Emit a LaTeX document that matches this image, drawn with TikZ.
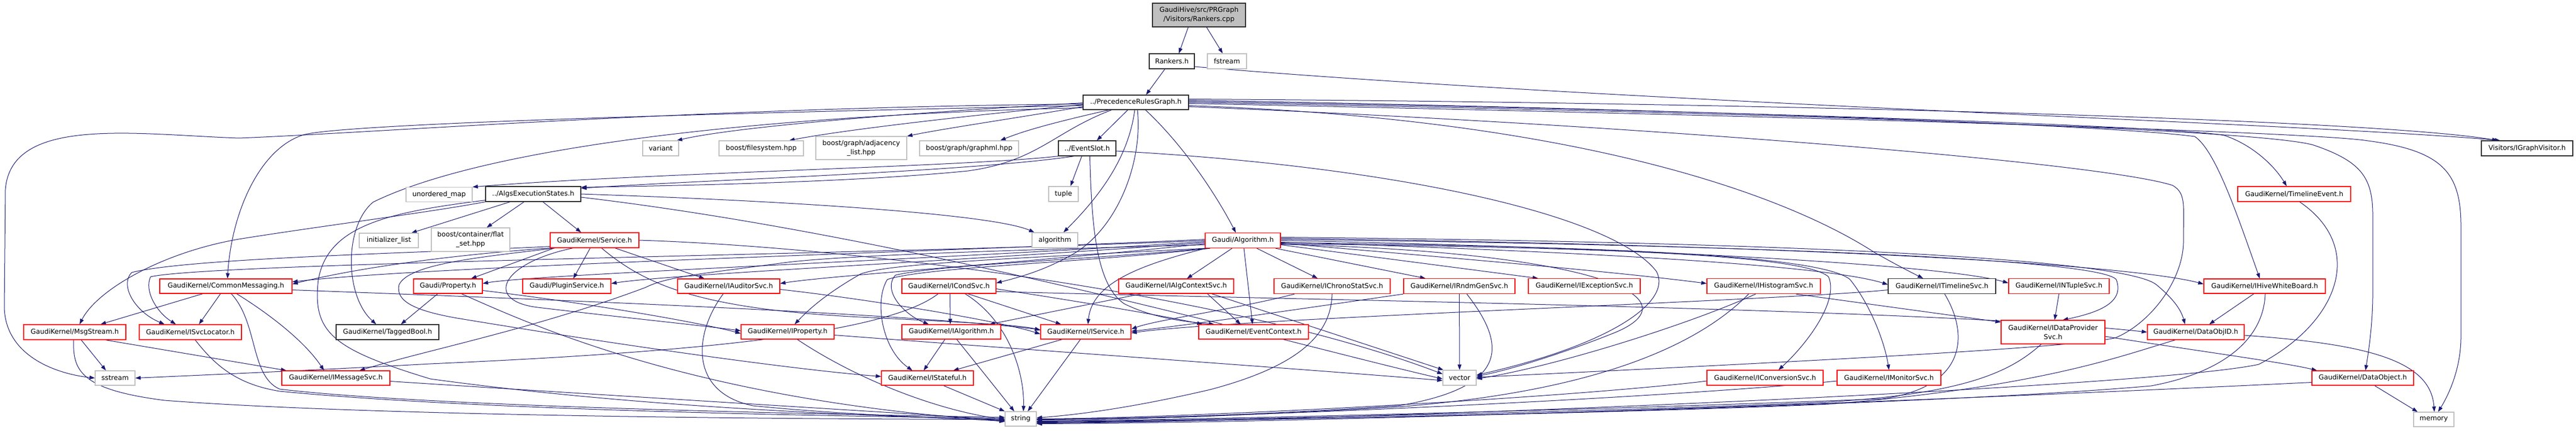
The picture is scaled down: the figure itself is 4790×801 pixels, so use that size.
\documentclass[tikz,border=0pt]{standalone}
\usepackage{fontspec}
\setmainfont{DejaVu Sans}
\usetikzlibrary{arrows.meta,backgrounds}
\definecolor{edgec}{RGB}{25,25,112}
\definecolor{nodered}{RGB}{255,0,0}
\definecolor{nodegray}{RGB}{191,191,191}
\definecolor{nodeblack}{RGB}{40,40,40}
\definecolor{rootgray}{RGB}{191,191,191}
\newcommand\nfont{\fontsize{12.6}{17}\selectfont}
\tikzset{
  nb/.style={draw=#1, line width=1.2pt, fill=white, inner sep=0pt, align=center, font=\nfont},
  rb/.style={nb=nodered}, gb/.style={nb=nodegray}, bb/.style={nb=nodeblack},
  sz/.style 2 args={minimum width=#1pt, minimum height=#2pt},
  edg/.style={draw=edgec, line width=1pt, -{Triangle[length=10pt,width=7pt]}}
}
\begin{document}
\begin{tikzpicture}[x=1pt,y=-1pt]
\useasboundingbox (0,0) rectangle (4790,801);
% ---------- nodes ----------
\node[bb, fill=rootgray, sz={173}{44}] (cpp) at (2229.5,28) {GaudiHive/src/PRGraph\\/Visitors/Rankers.cpp};
\node[bb, sz={84}{28}] (rankersh) at (2179,114) {Rankers.h};
\node[gb, sz={73}{28}] (fstream) at (2281.5,114) {fstream};
\node[bb, sz={196}{27}] (prg) at (2112,190.5) {../PrecedenceRulesGraph.h};
\node[gb, sz={123}{27}] (unmap) at (816.5,362) {unordered\_map};
\node[bb, sz={177}{28}] (algsexec) at (991.5,361) {../AlgsExecutionStates.h};
\node[gb, sz={67}{28}] (variant) at (1228.5,276) {variant};
\node[gb, sz={157}{28}] (filesystem) at (1415.5,276) {boost/filesystem.hpp};
\node[gb, sz={169}{43}] (adjlist) at (1601.5,275.5) {boost/graph/adjacency\\\_list.hpp};
\node[gb, sz={184}{28}] (graphml) at (1802,276) {boost/graph/graphml.hpp};
\node[bb, sz={107}{28}] (eventslot) at (2021.5,276) {../EventSlot.h};
\node[gb, sz={55}{28}] (tuple) at (1977.5,361) {tuple};
\node[gb, sz={85}{28}] (algorithm) at (1961.5,447) {algorithm};
\node[rb, sz={140}{28}] (galg) at (2311,447.5) {Gaudi/Algorithm.h};
\node[gb, sz={110}{27}] (initlist) at (723,447.5) {initializer\_list};
\node[gb, sz={146}{44}] (flatset) at (875,446) {boost/container/flat\\\_set.hpp};
\node[rb, sz={165}{28}] (service) at (1105.5,447) {GaudiKernel/Service.h};
\node[rb, sz={246}{27}] (commsg) at (420,532.5) {GaudiKernel/CommonMessaging.h};
\node[rb, sz={128}{27}] (property) at (833,532.5) {Gaudi/Property.h};
\node[rb, sz={164}{27}] (plugin) at (1054,532.5) {Gaudi/PluginService.h};
\node[rb, sz={190}{27}] (iauditor) at (1355,532.5) {GaudiKernel/IAuditorSvc.h};
\node[rb, sz={175}{27}] (icond) at (1764.5,532.5) {GaudiKernel/ICondSvc.h};
\node[rb, sz={214}{27}] (ialgctx) at (2187,532.5) {GaudiKernel/IAlgContextSvc.h};
\node[rb, sz={216}{28}] (ichrono) at (2477,532.5) {GaudiKernel/IChronoStatSvc.h};
\node[rb, sz={207}{28}] (irndm) at (2713.5,532.5) {GaudiKernel/IRndmGenSvc.h};
\node[rb, sz={208}{28}] (iexc) at (2946,532.5) {GaudiKernel/IExceptionSvc.h};
\node[rb, sz={211}{28}] (ihisto) at (3279.5,532.5) {GaudiKernel/IHistogramSvc.h};
\node[bb, sz={200}{28}] (itimeline) at (3611,532.5) {GaudiKernel/ITimelineSvc.h};
\node[rb, sz={187}{28}] (intuple) at (3828.5,532.5) {GaudiKernel/INTupleSvc.h};
\node[rb, sz={226}{27}] (ihive) at (4211,532.5) {GaudiKernel/IHiveWhiteBoard.h};
\node[rb, sz={210}{28}] (timelineev) at (4266,361) {GaudiKernel/TimelineEvent.h};
\node[bb, sz={170}{28}] (igraphvis) at (4699,276) {Visitors/IGraphVisitor.h};
\node[rb, sz={190}{28}] (msgstream) at (139,618) {GaudiKernel/MsgStream.h};
\node[rb, sz={190}{28}] (isvcloc) at (354,618) {GaudiKernel/ISvcLocator.h};
\node[bb, sz={191}{28}] (taggedbool) at (720.5,618) {GaudiKernel/TaggedBool.h};
\node[rb, sz={173}{27}] (iproperty) at (1464.5,617.5) {GaudiKernel/IProperty.h};
\node[rb, sz={184}{27}] (ialgorithm) at (1769,617.5) {GaudiKernel/IAlgorithm.h};
\node[rb, sz={168}{27}] (iservice) at (2019,617.5) {GaudiKernel/IService.h};
\node[rb, sz={204}{27}] (evctx) at (2331,617.5) {GaudiKernel/EventContext.h};
\node[rb, sz={193}{44}] (idataprov) at (3817.5,618) {GaudiKernel/IDataProvider\\Svc.h};
\node[rb, sz={180}{28}] (dataobjid) at (4083,618) {GaudiKernel/DataObjID.h};
\node[gb, sz={74}{27}] (sstream) at (214,703.5) {sstream};
\node[rb, sz={201}{27}] (imsgsvc) at (624.5,703.5) {GaudiKernel/IMessageSvc.h};
\node[rb, sz={171}{27}] (istateful) at (1724.5,703.5) {GaudiKernel/IStateful.h};
\node[gb, sz={62}{28}] (vector) at (2714,703) {vector};
\node[rb, sz={216}{28}] (iconv) at (3282,703) {GaudiKernel/IConversionSvc.h};
\node[rb, sz={193}{28}] (imonitor) at (3512.5,703) {GaudiKernel/IMonitorSvc.h};
\node[rb, sz={189}{27}] (dataobject) at (4393.5,703.5) {GaudiKernel/DataObject.h};
\node[gb, sz={58}{27}] (string) at (1898,779.5) {string};
\node[gb, sz={75}{27}] (memory) at (4525.5,780.5) {memory};
% ---------- edges ----------
\begin{scope}[on background layer]
\fill[white] (0,0) rectangle (4790,801);
% top
\draw[edg] ([xshift=-20pt]cpp.south) -- ([xshift=13pt]rankersh.north);
\draw[edg] ([xshift=14pt]cpp.south) -- ([xshift=-8pt]fstream.north);
\draw[edg] ([xshift=-13pt]rankersh.south) -- ([xshift=19pt]prg.north);
\draw[edg] ([yshift=-10pt]rankersh.east) .. controls (3000,190) and (4300,230) .. ([xshift=-50pt]igraphvis.north);
% PRG left
\draw[edg] ([yshift=-3pt]prg.west) .. controls (1300,200) and (700,247) .. (444,257) .. controls (250,250) and (20,215) .. (10,353) -- (8,572) .. controls (10,660) and (100,695) .. (sstream.west);
\draw[edg] ([yshift=-6pt]prg.west) .. controls (1100,215) and (600,235) .. (561,252) .. controls (480,280) and (430,400) .. ([xshift=3pt]commsg.north);
\draw[edg] ([yshift=-10pt]prg.west) .. controls (1400,215) and (900,275) .. (694,376) .. controls (640,420) and (640,550) .. ([xshift=-21pt]taggedbool.north);
\draw[edg] ([yshift=-1pt]prg.west) .. controls (1600,215) and (1350,240) .. ([xshift=30pt]variant.north);
\draw[edg] ([yshift=-4pt]prg.west) .. controls (1750,220) and (1550,245) .. ([xshift=52pt]filesystem.north);
\draw[edg] ([yshift=-8pt]prg.west) .. controls (1900,218) and (1750,240) .. (adjlist.north east);
\draw[edg] ([xshift=-50pt]prg.south) .. controls (1950,230) and (1900,245) .. ([xshift=58pt]graphml.north);
\draw[edg] ([xshift=-15pt]prg.south) -- ([xshift=18pt]eventslot.north);
\draw[edg] ([xshift=-2pt]prg.south) .. controls (2100,280) and (2060,350) .. ([xshift=16pt]algorithm.north);
\draw[edg] ([xshift=3pt]prg.south) .. controls (2125,300) and (2080,420) .. (2000,470) .. controls (1950,500) and (1900,515) .. ([yshift=6pt]icond.east);
\draw[edg] ([xshift=18pt]prg.south) .. controls (2200,270) and (2260,360) .. ([xshift=-13pt]galg.north);
\draw[edg] ([xshift=-45pt]prg.south) .. controls (1960,245) and (1930,300) .. (1800,318) .. controls (1600,338) and (1300,345) .. ([yshift=-2pt]algsexec.north east);
% PRG right
\draw[edg] ([yshift=-6pt]prg.east) .. controls (2900,220) and (3300,350) .. (3486,470) .. controls (3530,495) and (3560,510) .. ([xshift=-35pt]itimeline.north);
\draw[edg] ([yshift=-8pt]prg.east) .. controls (3000,230) and (3900,300) .. (4040,345) .. controls (4065,360) and (4060,380) .. (4060,449) .. controls (4060,520) and (4000,600) .. (3935,628) .. controls (3870,648) and (3200,680) .. ([yshift=1pt]vector.east);
\draw[edg] ([yshift=4pt]prg.east) .. controls (3000,200) and (3900,230) .. (4081,254) .. controls (4120,280) and (4160,400) .. ([xshift=-9pt]ihive.north);
\draw[edg] ([yshift=2pt]prg.east) .. controls (3200,205) and (4050,235) .. (4136,252) .. controls (4190,270) and (4230,310) .. ([xshift=-14pt]timelineev.north);
\draw[edg] (prg.east) .. controls (3300,210) and (4200,240) .. (4302,270) .. controls (4390,300) and (4412,330) .. (4412,400) -- (4412,547) .. controls (4412,600) and (4405,650) .. ([xshift=5pt]dataobject.north);
\draw[edg] ([yshift=-2pt]prg.east) .. controls (3300,215) and (4300,245) .. (4403,262) .. controls (4540,280) and (4576,320) .. (4576,420) -- (4576,627) .. controls (4576,690) and (4550,740) .. ([xshift=8pt]memory.north);
\draw[edg] ([yshift=6pt]prg.east) .. controls (3200,190) and (4400,220) .. ([xshift=-55pt]igraphvis.north);
% EventSlot
\draw[edg] ([xshift=-10pt]eventslot.south) -- ([xshift=13pt]tuple.north);
\draw[edg] (eventslot.south west) .. controls (1800,310) and (1200,322) .. (unmap.north east);
\draw[edg] ([xshift=30pt]eventslot.south west) .. controls (1800,320) and (1300,335) .. ([yshift=-4pt]algsexec.north east);
\draw[edg] ([xshift=5pt]eventslot.south) .. controls (2030,430) and (2040,530) .. (2090,565) .. controls (2150,595) and (2220,600) .. ([xshift=-73pt]evctx.north);
\draw[edg] ([yshift=-5pt]eventslot.east) .. controls (2600,310) and (3000,400) .. (3080,505) .. controls (3110,560) and (3000,640) .. ([yshift=5pt]vector.east);
% AlgsExecutionStates
\draw[edg] ([xshift=-43pt]algsexec.south) -- ([xshift=42pt]initlist.north);
\draw[edg] ([xshift=-17pt]algsexec.south) -- ([xshift=30pt]flatset.north);
\draw[edg] ([xshift=18pt]algsexec.south) -- ([xshift=-25pt]service.north);
\draw[edg] (algsexec.east) .. controls (1500,375) and (1850,400) .. ([xshift=5pt]algorithm.north west);
\draw[edg] ([yshift=-6pt]algsexec.east) .. controls (1700,440) and (2400,640) .. ([yshift=-2pt]vector.west);
\draw[edg] (algsexec.south west) .. controls (800,395) and (600,420) .. (444,445) .. controls (300,470) and (180,540) .. ([xshift=9pt]msgstream.north);
\draw[edg] ([yshift=3pt]algsexec.south west) .. controls (720,395) and (610,420) .. (592,520) .. controls (580,620) and (620,650) .. (800,705) .. controls (1200,760) and (1600,772) .. ([yshift=-3pt]string.west);
% Service
\draw[edg] ([xshift=-75pt]service.south) -- ([xshift=43pt]property.north);
\draw[edg] ([xshift=-8pt]service.south) -- ([xshift=12pt]plugin.north);
\draw[edg] ([xshift=38pt]service.south) -- ([xshift=-45pt]iauditor.north);
\draw[edg] ([xshift=13pt]service.south) .. controls (1200,530) and (1300,575) .. (1600,590) .. controls (1800,600) and (1900,605) .. ([yshift=3pt]iservice.west);
\draw[edg] ([xshift=-40pt]service.south) .. controls (930,490) and (900,560) .. (1000,572) .. controls (1150,590) and (1300,605) .. ([yshift=2pt]iproperty.west);
\draw[edg] (service.south west) .. controls (900,470) and (700,490) .. ([yshift=4pt]commsg.east);
\draw[edg] ([yshift=3pt]service.south west) .. controls (800,470) and (350,480) .. (245,507) .. controls (222,530) and (250,580) .. ([xshift=-48pt]isvcloc.north);
\draw[edg] ([xshift=10pt]service.south west) .. controls (900,478) and (760,490) .. (742,530) .. controls (735,560) and (770,578) .. (850,592) .. controls (1200,650) and (1500,690) .. ([yshift=3pt]istateful.west);
\draw[edg] (service.east) .. controls (1600,460) and (2300,550) .. ([yshift=7pt]vector.west);
% Gaudi/Algorithm left
\draw[edg] ([yshift=2pt]galg.west) .. controls (1700,470) and (800,495) .. ([yshift=8pt]commsg.east);
\draw[edg] (galg.west) .. controls (1700,472) and (400,488) .. (280,515) .. controls (268,540) and (290,580) .. ([xshift=-27pt]isvcloc.north);
\draw[edg] ([yshift=-2pt]galg.west) .. controls (1800,480) and (1000,510) .. ([yshift=5pt]property.east);
\draw[edg] ([yshift=-4pt]galg.west) .. controls (1800,485) and (1250,510) .. ([yshift=5pt]plugin.east);
\draw[edg] ([yshift=-6pt]galg.west) .. controls (1900,490) and (1550,512) .. ([yshift=5pt]iauditor.east);
\draw[edg] (galg.south west) .. controls (1900,480) and (1650,490) .. (1600,510) .. controls (1530,550) and (1500,580) .. ([xshift=13pt]iproperty.north);
\draw[edg] ([xshift=5pt]galg.south west) .. controls (2000,485) and (1750,492) .. (1665,512) .. controls (1640,540) and (1680,585) .. ([xshift=-42pt]ialgorithm.north);
\draw[edg] ([xshift=10pt]galg.south west) .. controls (2000,490) and (1720,497) .. (1650,520) .. controls (1625,560) and (1640,650) .. ([xshift=-28pt]istateful.north);
\draw[edg] ([xshift=2pt]galg.south west) .. controls (2110,495) and (2030,530) .. ([xshift=4pt]iservice.north);
\draw[edg] ([yshift=-8pt]galg.west) .. controls (1900,465) and (1550,475) .. (1450,490) .. controls (1300,510) and (1240,515) .. (1200,535) .. controls (1000,610) and (800,650) .. ([xshift=44pt]imsgsvc.north);
% Gaudi/Algorithm right
\draw[edg] ([xshift=-20pt]galg.south) -- ([xshift=20pt]ialgctx.north);
\draw[edg] ([xshift=2pt]galg.south) -- ([xshift=-2pt]evctx.north);
\draw[edg] ([xshift=26pt]galg.south) -- ([xshift=-27pt]ichrono.north);
\draw[edg] ([xshift=-10pt]galg.south east) -- ([xshift=-63pt]irndm.north);
\draw[edg] ([yshift=-8pt]galg.east) -- ([xshift=-86pt]iexc.north);
\draw[edg] ([yshift=-5pt]galg.east) .. controls (2700,480) and (3000,505) .. ([yshift=5pt]ihisto.west);
\draw[edg] ([yshift=-3pt]galg.east) .. controls (3000,470) and (3400,495) .. ([yshift=3pt]itimeline.west);
\draw[edg] (galg.east) .. controls (3000,460) and (3600,490) .. ([yshift=6pt]intuple.west);
\draw[edg] ([yshift=2pt]galg.east) .. controls (3200,455) and (3900,480) .. (3935,520) .. controls (3950,560) and (3910,580) .. ([xshift=18pt]idataprov.north);
\draw[edg] ([yshift=4pt]galg.east) .. controls (3300,455) and (3950,490) .. ([yshift=4pt]ihive.west);
\draw[edg] ([yshift=6pt]galg.east) .. controls (3300,450) and (3950,480) .. (4010,530) .. controls (4040,555) and (4055,575) .. ([xshift=-20pt]dataobjid.north);
\draw[edg] ([yshift=-6pt]galg.east) .. controls (2900,460) and (3350,470) .. (3400,515) .. controls (3420,560) and (3360,640) .. ([xshift=25pt]iconv.north);
\draw[edg] ([yshift=-4pt]galg.east) .. controls (2900,458) and (3380,470) .. (3440,520) .. controls (3480,570) and (3505,640) .. (imonitor.north);
\draw[edg] ([yshift=-7pt]galg.east) .. controls (3000,470) and (3150,560) .. (3000,620) .. controls (2900,660) and (2800,690) .. ([yshift=3pt]vector.east);
% ICondSvc
\draw[edg] ([xshift=2pt]icond.south) -- ([xshift=-2pt]ialgorithm.north);
\draw[edg] ([xshift=35pt]icond.south) -- ([xshift=-46pt]iservice.north);
\draw[edg] ([yshift=-5pt]icond.east) .. controls (2000,560) and (2150,585) .. ([xshift=-95pt]evctx.north);
\draw[edg] ([yshift=-10pt]icond.east) .. controls (2500,560) and (3600,575) .. (dataobjid.west);
\draw[edg] ([xshift=30pt]icond.south) .. controls (1880,600) and (1905,700) .. ([xshift=5pt]string.north);
\draw[edg] ([xshift=-20pt]icond.south) .. controls (1650,620) and (1300,655) .. (800,677) .. controls (600,688) and (400,697) .. (sstream.east);
% IAlgContextSvc
\draw[edg] ([xshift=58pt]ialgctx.south) -- ([xshift=-24pt]evctx.north);
\draw[edg] ([xshift=-64pt]ialgctx.south) -- ([xshift=71pt]ialgorithm.north);
\draw[edg] ([xshift=66pt]ialgctx.south) -- ([xshift=-30pt]vector.north);
% IChronoStatSvc, IRndmGenSvc, IHistogramSvc, ITimelineSvc
\draw[edg] ([xshift=-70pt]ichrono.south) .. controls (2300,575) and (2150,595) .. ([yshift=5pt]iservice.east);
\draw[edg] (ichrono.south) .. controls (2475,620) and (2420,680) .. (2250,725) .. controls (2100,760) and (2000,772) .. ([yshift=2pt]string.east);
\draw[edg] ([xshift=14pt]irndm.south) .. controls (2800,640) and (2810,720) .. (2600,755) .. controls (2300,775) and (2050,780) .. (string.east);
\draw[edg] (irndm.south) -- (vector.north);
\draw[edg] (irndm.south west) .. controls (2450,570) and (2250,600) .. ([yshift=1pt]iservice.east);
\draw[edg] ([xshift=60pt]ihisto.south) -- ([yshift=-4pt]idataprov.north west);
\draw[edg] ([xshift=-15pt]ihisto.south) .. controls (3150,600) and (2900,680) .. ([yshift=-2pt]vector.east);
\draw[edg] ([xshift=-28pt]ihisto.south) .. controls (3150,650) and (2950,730) .. (2600,757) .. controls (2300,775) and (2050,782) .. ([yshift=-2pt]string.east);
\draw[edg] ([yshift=-7pt]itimeline.west) .. controls (3300,560) and (2300,592) .. ([yshift=-2pt]iservice.east);
\draw[edg] ([xshift=5pt]itimeline.south) .. controls (3660,620) and (3660,720) .. (3500,742) .. controls (3000,762) and (2200,782) .. ([yshift=-4pt]string.east);
% INTupleSvc, IDataProviderSvc, DataObjID, IHiveWhiteBoard, TimelineEvent, DataObject
\draw[edg] (intuple.south) -- ([xshift=3pt]idataprov.north);
\draw[edg] ([xshift=-22pt]idataprov.south) .. controls (3740,690) and (3660,732) .. (3400,748) .. controls (3000,766) and (2200,783) .. ([yshift=-5pt]string.east);
\draw[edg] ([yshift=-8pt]idataprov.east) .. controls (4100,655) and (4250,675) .. ([xshift=10pt]dataobject.north west);
\draw[edg] ([xshift=-38pt]dataobjid.south) .. controls (3950,660) and (3800,720) .. (3400,752) .. controls (3000,770) and (2200,784) .. ([yshift=-6pt]string.east);
\draw[edg] ([yshift=-6pt]dataobjid.east) .. controls (4400,640) and (4520,670) .. ([xshift=1pt]memory.north);
\draw[edg] ([xshift=-20pt]ihive.south) -- ([xshift=25pt]dataobjid.north);
\draw[edg] ([xshift=1pt]ihive.south) .. controls (4210,620) and (4150,690) .. (4000,718) .. controls (3500,762) and (2200,785) .. ([yshift=-7pt]string.east);
\draw[edg] ([xshift=10pt]timelineev.south) .. controls (4400,460) and (4350,600) .. (4200,678) .. controls (4000,722) and (2500,784) .. ([yshift=-8pt]string.east);
\draw[edg] ([xshift=22pt]dataobject.south) -- ([xshift=-30pt]memory.north);
\draw[edg] ([yshift=-8pt]dataobject.west) .. controls (3500,750) and (2500,786) .. ([yshift=-9pt]string.east);
\draw[edg] ([yshift=-6pt]imonitor.west) .. controls (3100,740) and (2300,778) .. ([yshift=-1pt]string.east);
\draw[edg] ([yshift=-6pt]iconv.west) .. controls (2900,742) and (2200,778) .. (string.east);
% CommonMessaging and lower left
\draw[edg] ([xshift=-43pt]commsg.south) -- ([xshift=48pt]msgstream.north);
\draw[edg] ([xshift=-10pt]commsg.south) -- ([xshift=16pt]isvcloc.north);
\draw[edg] ([xshift=20pt]commsg.south) .. controls (510,590) and (570,640) .. ([xshift=-22pt]imsgsvc.north);
\draw[edg] ([xshift=10pt]commsg.south) .. controls (480,600) and (465,700) .. (520,724) .. controls (800,758) and (1600,772) .. ([yshift=3pt]string.west);
\draw[edg] ([yshift=-7pt]commsg.east) .. controls (1100,560) and (1700,585) .. ([yshift=4pt]iservice.west);
\draw[edg] ([xshift=12pt]msgstream.south) -- ([xshift=-17pt]sstream.north);
\draw[edg] ([xshift=57pt]msgstream.south) -- ([xshift=-92pt]imsgsvc.north);
\draw[edg] ([xshift=-2pt]msgstream.south) .. controls (135,690) and (150,725) .. (306,745) .. controls (700,775) and (1500,780) .. ([yshift=-1pt]string.west);
\draw[edg] ([xshift=9pt]isvcloc.south) .. controls (400,680) and (440,715) .. (520,728) .. controls (900,765) and (1600,775) .. ([yshift=1pt]string.west);
\draw[edg] ([yshift=-6pt]imsgsvc.east) .. controls (1200,740) and (1700,770) .. ([yshift=-2pt]string.west);
\draw[edg] ([xshift=-19pt]property.south) -- ([xshift=25pt]taggedbool.north);
\draw[edg] ([yshift=-8pt]property.east) .. controls (1100,565) and (1300,600) .. ([yshift=-3pt]iproperty.west);
\draw[edg] ([xshift=25pt]property.south) .. controls (1000,610) and (1300,745) .. ([yshift=-4pt]string.west);
\draw[edg] ([xshift=-10pt]iauditor.south) .. controls (1290,620) and (1280,730) .. (1400,755) .. controls (1600,775) and (1800,778) .. ([yshift=-5pt]string.west);
\draw[edg] ([yshift=-6pt]iauditor.east) .. controls (1600,555) and (1850,595) .. ([yshift=-4pt]iservice.west);
\draw[edg] ([xshift=18pt]iproperty.south) .. controls (1600,710) and (1750,765) .. ([yshift=-1pt]string.west);
\draw[edg] ([yshift=-6pt]iproperty.east) .. controls (1900,650) and (2400,685) .. ([yshift=-5pt]vector.west);
\draw[edg] ([xshift=-12pt]ialgorithm.south) -- ([xshift=-7pt]istateful.north);
\draw[edg] ([xshift=10pt]ialgorithm.south) .. controls (1810,670) and (1850,720) .. ([xshift=-12pt]string.north);
\draw[edg] ([xshift=-44pt]iservice.south) -- ([xshift=48pt]istateful.north);
\draw[edg] ([xshift=-10pt]iservice.south) -- ([xshift=13pt]string.north);
\draw[edg] ([xshift=30pt]istateful.south) -- (string.north west);
\end{scope}
\end{tikzpicture}
\end{document}
